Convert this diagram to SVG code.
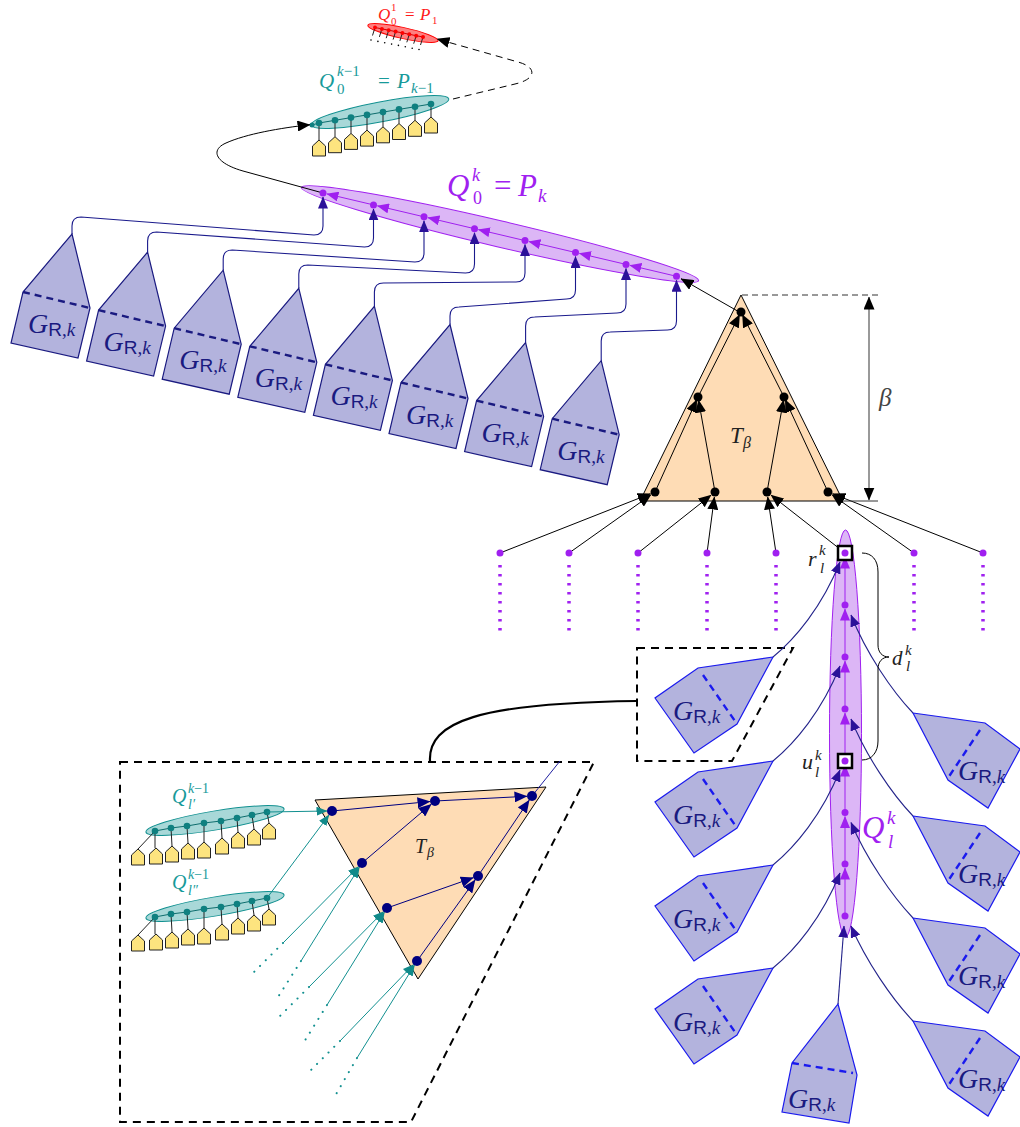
<svg xmlns="http://www.w3.org/2000/svg" width="1020" height="1127" viewBox="0 0 1020 1127">
<defs>
<style>
.mi{font-family:"Liberation Serif","DejaVu Serif",serif;font-style:italic}
.up{font-style:normal}
.sf{font-family:"Liberation Sans","DejaVu Sans",sans-serif;font-style:normal}
.gl{font-size:28px;fill:#1a1a80}
.boxT{fill:#b3b3dd;stroke:#1a1a80;stroke-width:1.2}
.dashT{stroke:#1a1a80;stroke-width:2.4;stroke-dasharray:7 5;fill:none}
.boxB{fill:#b3b3dd;stroke:#1a1aee;stroke-width:1.2}
.dashB{stroke:#1a1aee;stroke-width:2.4;stroke-dasharray:7 5;fill:none}
.house{fill:#fde47f;stroke:#222;stroke-width:1}
.stem{stroke:#222;stroke-width:1;fill:none}
.tealE{fill:#a8d8d8;stroke:#119090;stroke-width:1}
.tline{fill:none;stroke:#0d6d6d;stroke-width:1}
.tdot{fill:#0f8080}
.pdot{fill:#a020f0}
.kdot{fill:#000}
.ndot{fill:#000080}
.cb{fill:none;stroke:#1a1a8c;stroke-width:1.1;marker-end:url(#aB)}
.cb2{fill:none;stroke:#23238a;stroke-width:1.1;marker-end:url(#aB)}
.cp{fill:none;stroke:#a020f0;stroke-width:1;marker-end:url(#aP)}
.ck{fill:none;stroke:#000;stroke-width:1;marker-end:url(#aK)}
.ckd{fill:none;stroke:#000;stroke-width:1;stroke-dasharray:7 5;marker-end:url(#aK)}
.ct{fill:none;stroke:#129090;stroke-width:1;marker-end:url(#aT)}
.cn{fill:none;stroke:#000080;stroke-width:1;marker-end:url(#aN)}
.dotline{fill:none;stroke:#129090;stroke-width:2;stroke-linecap:round;stroke-dasharray:0.1 8}
.pdots{stroke:#a020f0;stroke-width:3.5;stroke-dasharray:2.5 6.5;fill:none}
.frame{fill:none;stroke:#000;stroke-width:2;stroke-dasharray:8 6}
</style>
<marker id="aB" viewBox="0 0 12 10" refX="11.5" refY="5" markerWidth="12" markerHeight="10" markerUnits="userSpaceOnUse" orient="auto"><path d="M0,0 L12,5 L0,10 z" fill="#2b1199"/></marker>
<marker id="aP" viewBox="0 0 12 10" refX="11.5" refY="5" markerWidth="12" markerHeight="10" markerUnits="userSpaceOnUse" orient="auto"><path d="M0,0 L12,5 L0,10 z" fill="#a020f0"/></marker>
<marker id="aK" viewBox="0 0 13 11" refX="12.5" refY="5.5" markerWidth="13" markerHeight="11" markerUnits="userSpaceOnUse" orient="auto"><path d="M0,0 L13,5.5 L0,11 z" fill="#000"/></marker>
<marker id="aKb" viewBox="0 0 13 11" refX="12.5" refY="5.5" markerWidth="13" markerHeight="11" markerUnits="userSpaceOnUse" orient="auto-start-reverse"><path d="M0,0 L13,5.5 L0,11 z" fill="#000"/></marker>
<marker id="aT" viewBox="0 0 11 9" refX="10.5" refY="4.5" markerWidth="11" markerHeight="9" markerUnits="userSpaceOnUse" orient="auto"><path d="M0,0 L11,4.5 L0,9 z" fill="#118a8a"/></marker>
<marker id="aN" viewBox="0 0 13 11" refX="12.5" refY="5.5" markerWidth="13" markerHeight="11" markerUnits="userSpaceOnUse" orient="auto"><path d="M0,0 L13,5.5 L0,11 z" fill="#000080"/></marker>
</defs>
<rect width="1020" height="1127" fill="#fff"/>

<g id="frames">
<polygon class="frame" points="120,762 594,762 411,1122 120,1122"/>
<polygon class="frame" points="637,648 793,648 732,761 637,761"/>
<path d="M430,761 C428,722 478,703 637,701" fill="none" stroke="#000" stroke-width="2.2"/>
</g>

<g id="P1">
<ellipse cx="403" cy="33" rx="36" ry="5.5" transform="rotate(12.4 403 33)" fill="#ff8080" stroke="#ff0000" stroke-width="1"/>
<polyline points="375,27.5 381.9,28.9 388.7,30.2 395.6,31.6 402.4,32.9 409.3,34.3 416.2,35.7 423,37" fill="none" stroke="#c00" stroke-width="1"/>
<path class="stem" d="M375,27.5 l-2.5,8 M381.9,28.9 l-2.5,8 M388.7,30.2 l-2.5,8 M395.6,31.6 l-2.5,8 M402.4,32.9 l-2.5,8 M409.3,34.3 l-2.5,8 M416.2,35.7 l-2.5,8 M423,37 l-2.5,8"/>
<g fill="#000"><circle cx="371" cy="40" r="0.8"/><circle cx="377.9" cy="41.4" r="0.8"/><circle cx="384.7" cy="42.7" r="0.8"/><circle cx="391.6" cy="44.1" r="0.8"/><circle cx="398.4" cy="45.4" r="0.8"/><circle cx="405.3" cy="46.8" r="0.8"/><circle cx="412.2" cy="48.2" r="0.8"/><circle cx="419" cy="49.5" r="0.8"/></g>
<g fill="#ff0000"><circle cx="375" cy="27.5" r="2"/><circle cx="381.9" cy="28.9" r="2"/><circle cx="388.7" cy="30.2" r="2"/><circle cx="395.6" cy="31.6" r="2"/><circle cx="402.4" cy="32.9" r="2"/><circle cx="409.3" cy="34.3" r="2"/><circle cx="416.2" cy="35.7" r="2"/><circle cx="423" cy="37" r="2"/></g>
<text class="mi" fill="#ff1a1a" font-size="17"><tspan x="378" y="20">Q</tspan><tspan x="391" y="11" font-size="11" class="up">1</tspan><tspan x="391" y="25" font-size="11" class="up">0</tspan><tspan x="405" y="20" class="up">=</tspan><tspan x="420" y="20">P</tspan><tspan x="432" y="24" font-size="11" class="up">1</tspan></text>
</g>

<g id="Pk1">
<ellipse class="tealE" cx="380" cy="112" rx="70" ry="10" transform="rotate(-10.8 380 112)"/>
<polyline class="tline" points="312,125 319,123 335,120.3 351,117.6 367,114.9 383,112.1 399,109.4 415,106.7 431,104"/>
<path class="stem" d="M319,123 V140 M335,120.3 V136.7 M351,117.6 V133.4 M367,114.9 V130.1 M383,112.1 V126.8 M399,109.4 V123.5 M415,106.7 V120.3 M431,104 V117"/>
<polygon class="house" points="319,140 325.5,146 325.5,156 312.5,156 312.5,146"/>
<polygon class="house" points="335,136.7 341.5,142.7 341.5,152.7 328.5,152.7 328.5,142.7"/>
<polygon class="house" points="351,133.4 357.5,139.4 357.5,149.4 344.5,149.4 344.5,139.4"/>
<polygon class="house" points="367,130.1 373.5,136.1 373.5,146.1 360.5,146.1 360.5,136.1"/>
<polygon class="house" points="383,126.8 389.5,132.8 389.5,142.8 376.5,142.8 376.5,132.8"/>
<polygon class="house" points="399,123.5 405.5,129.5 405.5,139.5 392.5,139.5 392.5,129.5"/>
<polygon class="house" points="415,120.3 421.5,126.3 421.5,136.3 408.5,136.3 408.5,126.3"/>
<polygon class="house" points="431,117 437.5,123 437.5,133 424.5,133 424.5,123"/>
<g class="tdot"><circle cx="312" cy="125" r="2.5"/><circle cx="319" cy="123" r="3.3"/><circle cx="335" cy="120.3" r="3.3"/><circle cx="351" cy="117.6" r="3.3"/><circle cx="367" cy="114.9" r="3.3"/><circle cx="383" cy="112.1" r="3.3"/><circle cx="399" cy="109.4" r="3.3"/><circle cx="415" cy="106.7" r="3.3"/><circle cx="431" cy="104" r="3.3"/></g>
<text class="mi" fill="#179a9a" font-size="21"><tspan x="319" y="88">Q</tspan><tspan x="337" y="76" font-size="15">k<tspan class="up">−1</tspan></tspan><tspan x="337" y="94" font-size="15" class="up">0</tspan><tspan x="378" y="88" class="up">=</tspan><tspan x="397" y="88">P</tspan><tspan x="411" y="93" font-size="15">k<tspan class="up">−1</tspan></tspan></text>
</g>

<g id="Pk">
<ellipse cx="500" cy="234" rx="204" ry="13" transform="rotate(13.2 500 234)" fill="#dcb6f6" stroke="#a020f0" stroke-width="1"/>
<text class="mi" fill="#a020f0" font-size="31"><tspan x="447" y="196">Q</tspan><tspan x="472" y="181" font-size="18">k</tspan><tspan x="473" y="204" font-size="18" class="up">0</tspan><tspan x="494" y="196" class="up">=</tspan><tspan x="518" y="196">P</tspan><tspan x="538" y="202" font-size="19">k</tspan></text>
</g>

<g id="Tbeta">
<polygon points="741,295 640,501 843,501" fill="#fedcb5" stroke="#000" stroke-width="1"/>
<text class="mi" font-size="23" fill="#222"><tspan x="730" y="443">T</tspan><tspan x="743" y="448" font-size="16">β</tspan></text>
</g>

<g id="Qlk">
<ellipse cx="845.5" cy="733.5" rx="16" ry="203.5" fill="#dcb6f6" stroke="#a020f0" stroke-width="1"/>
<text class="mi" fill="#a020f0" font-size="31"><tspan x="862" y="838">Q</tspan><tspan x="887" y="824" font-size="19">k</tspan><tspan x="888" y="848" font-size="19">l</tspan></text>
</g>

<g id="gt1" transform="translate(72,234)"><polygon class="boxT" points="0,0 18,74 6,124 -61,109 -49,58"/><line class="dashT" x1="-49" y1="58" x2="18" y2="74"/><text class="mi gl" x="-44" y="99">G<tspan class="sf" font-size="19" dy="3">R</tspan><tspan class="up" font-size="19">,</tspan><tspan font-size="19">k</tspan></text></g>
<g id="gt2" transform="translate(147.6,252.1)"><polygon class="boxT" points="0,0 18,74 6,124 -61,109 -49,58"/><line class="dashT" x1="-49" y1="58" x2="18" y2="74"/><text class="mi gl" x="-44" y="99">G<tspan class="sf" font-size="19" dy="3">R</tspan><tspan class="up" font-size="19">,</tspan><tspan font-size="19">k</tspan></text></g>
<g id="gt3" transform="translate(223.2,270.2)"><polygon class="boxT" points="0,0 18,74 6,124 -61,109 -49,58"/><line class="dashT" x1="-49" y1="58" x2="18" y2="74"/><text class="mi gl" x="-44" y="99">G<tspan class="sf" font-size="19" dy="3">R</tspan><tspan class="up" font-size="19">,</tspan><tspan font-size="19">k</tspan></text></g>
<g id="gt4" transform="translate(298.8,288.3)"><polygon class="boxT" points="0,0 18,74 6,124 -61,109 -49,58"/><line class="dashT" x1="-49" y1="58" x2="18" y2="74"/><text class="mi gl" x="-44" y="99">G<tspan class="sf" font-size="19" dy="3">R</tspan><tspan class="up" font-size="19">,</tspan><tspan font-size="19">k</tspan></text></g>
<g id="gt5" transform="translate(374.4,306.4)"><polygon class="boxT" points="0,0 18,74 6,124 -61,109 -49,58"/><line class="dashT" x1="-49" y1="58" x2="18" y2="74"/><text class="mi gl" x="-44" y="99">G<tspan class="sf" font-size="19" dy="3">R</tspan><tspan class="up" font-size="19">,</tspan><tspan font-size="19">k</tspan></text></g>
<g id="gt6" transform="translate(450,324.5)"><polygon class="boxT" points="0,0 18,74 6,124 -61,109 -49,58"/><line class="dashT" x1="-49" y1="58" x2="18" y2="74"/><text class="mi gl" x="-44" y="99">G<tspan class="sf" font-size="19" dy="3">R</tspan><tspan class="up" font-size="19">,</tspan><tspan font-size="19">k</tspan></text></g>
<g id="gt7" transform="translate(525.6,342.6)"><polygon class="boxT" points="0,0 18,74 6,124 -61,109 -49,58"/><line class="dashT" x1="-49" y1="58" x2="18" y2="74"/><text class="mi gl" x="-44" y="99">G<tspan class="sf" font-size="19" dy="3">R</tspan><tspan class="up" font-size="19">,</tspan><tspan font-size="19">k</tspan></text></g>
<g id="gt8" transform="translate(601.2,360.7)"><polygon class="boxT" points="0,0 18,74 6,124 -61,109 -49,58"/><line class="dashT" x1="-49" y1="58" x2="18" y2="74"/><text class="mi gl" x="-44" y="99">G<tspan class="sf" font-size="19" dy="3">R</tspan><tspan class="up" font-size="19">,</tspan><tspan font-size="19">k</tspan></text></g>

<g id="gl1" transform="translate(773,657)"><polygon class="boxB" points="0,0 -75,11 -118,41 -79,96 -36,67"/><line class="dashB" x1="-70" y1="18" x2="-36" y2="67"/><text class="mi gl" x="-100" y="63">G<tspan class="sf" font-size="19" dy="3">R</tspan><tspan class="up" font-size="19">,</tspan><tspan font-size="19">k</tspan></text></g>
<g id="gl2" transform="translate(773,761)"><polygon class="boxB" points="0,0 -75,11 -118,41 -79,96 -36,67"/><line class="dashB" x1="-70" y1="18" x2="-36" y2="67"/><text class="mi gl" x="-100" y="63">G<tspan class="sf" font-size="19" dy="3">R</tspan><tspan class="up" font-size="19">,</tspan><tspan font-size="19">k</tspan></text></g>
<g id="gl3" transform="translate(773,865)"><polygon class="boxB" points="0,0 -75,11 -118,41 -79,96 -36,67"/><line class="dashB" x1="-70" y1="18" x2="-36" y2="67"/><text class="mi gl" x="-100" y="63">G<tspan class="sf" font-size="19" dy="3">R</tspan><tspan class="up" font-size="19">,</tspan><tspan font-size="19">k</tspan></text></g>
<g id="gl4" transform="translate(773,968)"><polygon class="boxB" points="0,0 -75,11 -118,41 -79,96 -36,67"/><line class="dashB" x1="-70" y1="18" x2="-36" y2="67"/><text class="mi gl" x="-100" y="63">G<tspan class="sf" font-size="19" dy="3">R</tspan><tspan class="up" font-size="19">,</tspan><tspan font-size="19">k</tspan></text></g>
<g id="gbot" transform="translate(838,1004)"><polygon class="boxB" points="0,0 19,71 11,119 -56,108 -46,59"/><line class="dashB" x1="-46" y1="59" x2="15" y2="69"/><text class="mi gl" x="-50" y="104">G<tspan class="sf" font-size="19" dy="3">R</tspan><tspan class="up" font-size="19">,</tspan><tspan font-size="19">k</tspan></text></g>
<g id="gr1" transform="translate(913,713)"><polygon class="boxB" points="0,0 72,10 107,36 75,95 35,67"/><line class="dashB" x1="67" y1="17" x2="35" y2="65"/><text class="mi gl" x="45" y="67">G<tspan class="sf" font-size="19" dy="3">R</tspan><tspan class="up" font-size="19">,</tspan><tspan font-size="19">k</tspan></text></g>
<g id="gr2" transform="translate(913,816)"><polygon class="boxB" points="0,0 72,10 107,36 75,95 35,67"/><line class="dashB" x1="67" y1="17" x2="35" y2="65"/><text class="mi gl" x="45" y="67">G<tspan class="sf" font-size="19" dy="3">R</tspan><tspan class="up" font-size="19">,</tspan><tspan font-size="19">k</tspan></text></g>
<g id="gr3" transform="translate(913,918)"><polygon class="boxB" points="0,0 72,10 107,36 75,95 35,67"/><line class="dashB" x1="67" y1="17" x2="35" y2="65"/><text class="mi gl" x="45" y="67">G<tspan class="sf" font-size="19" dy="3">R</tspan><tspan class="up" font-size="19">,</tspan><tspan font-size="19">k</tspan></text></g>
<g id="gr4" transform="translate(913,1021)"><polygon class="boxB" points="0,0 72,10 107,36 75,95 35,67"/><line class="dashB" x1="67" y1="17" x2="35" y2="65"/><text class="mi gl" x="45" y="67">G<tspan class="sf" font-size="19" dy="3">R</tspan><tspan class="up" font-size="19">,</tspan><tspan font-size="19">k</tspan></text></g>

<g id="inset-T">
<polygon points="315,800 546,787 418,979" fill="#fedcb5" stroke="#000" stroke-width="1"/>
<text class="mi" font-size="20" fill="#222"><tspan x="415" y="853">T</tspan><tspan x="427" y="857" font-size="14">β</tspan></text>
</g>

<g id="inset-Q1">
<ellipse class="tealE" cx="215" cy="820.5" rx="70" ry="9.5" transform="rotate(-9.5 215 820.5)"/>
<polyline class="tline" points="155,831 171,828 187,826 204,823 221,821 237,818 252,815 267,812"/>
<path class="stem" d="M155,831 L138,849 M155,831 V848 M171,828 L172,846 M187,826 L188,843 M204,823 V842 M221,821 L222,838 M237,818 L238,832 M252,815 L254,829 M267,812 L269,823"/>
<polygon class="house" points="138,849 144.5,855 144.5,865 131.5,865 131.5,855"/>
<polygon class="house" points="156,848 162.5,854 162.5,864 149.5,864 149.5,854"/>
<polygon class="house" points="172,846 178.5,852 178.5,862 165.5,862 165.5,852"/>
<polygon class="house" points="188,843 194.5,849 194.5,859 181.5,859 181.5,849"/>
<polygon class="house" points="204,842 210.5,848 210.5,858 197.5,858 197.5,848"/>
<polygon class="house" points="222,838 228.5,844 228.5,854 215.5,854 215.5,844"/>
<polygon class="house" points="238,832 244.5,838 244.5,848 231.5,848 231.5,838"/>
<polygon class="house" points="254,829 260.5,835 260.5,845 247.5,845 247.5,835"/>
<polygon class="house" points="269,823 275.5,829 275.5,839 262.5,839 262.5,829"/>
<g class="tdot"><circle cx="155" cy="831" r="3.3"/><circle cx="171" cy="828" r="3.3"/><circle cx="187" cy="826" r="3.3"/><circle cx="204" cy="823" r="3.3"/><circle cx="221" cy="821" r="3.3"/><circle cx="237" cy="818" r="3.3"/><circle cx="252" cy="815" r="3.3"/><circle cx="267" cy="812" r="3.3"/></g>
<text class="mi" fill="#179a9a" font-size="20"><tspan x="172" y="803">Q</tspan><tspan x="188" y="793" font-size="14">k<tspan class="up">−1</tspan></tspan><tspan x="188" y="809" font-size="14">l′</tspan></text>
</g>

<g id="inset-Q2">
<g transform="translate(0,86)">
<ellipse class="tealE" cx="215" cy="820.5" rx="70" ry="9.5" transform="rotate(-9.5 215 820.5)"/>
<polyline class="tline" points="155,831 171,828 187,826 204,823 221,821 237,818 252,815 267,812"/>
<path class="stem" d="M155,831 L138,849 M155,831 V848 M171,828 L172,846 M187,826 L188,843 M204,823 V842 M221,821 L222,838 M237,818 L238,832 M252,815 L254,829 M267,812 L269,823"/>
<polygon class="house" points="138,849 144.5,855 144.5,865 131.5,865 131.5,855"/>
<polygon class="house" points="156,848 162.5,854 162.5,864 149.5,864 149.5,854"/>
<polygon class="house" points="172,846 178.5,852 178.5,862 165.5,862 165.5,852"/>
<polygon class="house" points="188,843 194.5,849 194.5,859 181.5,859 181.5,849"/>
<polygon class="house" points="204,842 210.5,848 210.5,858 197.5,858 197.5,848"/>
<polygon class="house" points="222,838 228.5,844 228.5,854 215.5,854 215.5,844"/>
<polygon class="house" points="238,832 244.5,838 244.5,848 231.5,848 231.5,838"/>
<polygon class="house" points="254,829 260.5,835 260.5,845 247.5,845 247.5,835"/>
<polygon class="house" points="269,823 275.5,829 275.5,839 262.5,839 262.5,829"/>
<g class="tdot"><circle cx="155" cy="831" r="3.3"/><circle cx="171" cy="828" r="3.3"/><circle cx="187" cy="826" r="3.3"/><circle cx="204" cy="823" r="3.3"/><circle cx="221" cy="821" r="3.3"/><circle cx="237" cy="818" r="3.3"/><circle cx="252" cy="815" r="3.3"/><circle cx="267" cy="812" r="3.3"/></g>
</g>
<text class="mi" fill="#179a9a" font-size="20"><tspan x="172" y="889">Q</tspan><tspan x="188" y="879" font-size="14">k<tspan class="up">−1</tspan></tspan><tspan x="188" y="895" font-size="14">l″</tspan></text>
</g>

<g id="connectors">
<path class="ck" d="M323,193 L243,171 C215,163 210,150 226,143 C246,134 280,128 310,124.7"/>
<path class="ckd" d="M453,99 L515,84 C537,79 537,67 518,62 L437,39"/>
<path class="ck" d="M741,313 L681,278.7"/>
<path class="cb" d="M72,234 V226 Q72,217 81,217 L314,235 Q323,235 323,226 V197"/>
<path class="cb" d="M147.6,252.1 V241 Q147.6,232 156.6,232 L364.5,247 Q373.5,247 373.5,238 V208.9"/>
<path class="cb" d="M223.2,270.2 V259 Q223.2,250 232.2,250 L415,262 Q424,262 424,253 V220.8"/>
<path class="cb" d="M298.8,288.3 V274 Q298.8,265 307.8,265 L465.5,273 Q474.5,273 474.5,264 V232.7"/>
<path class="cb" d="M374.4,306.4 V292 Q374.4,283 383.4,283 L516,282 Q525,282 525,273 V244.6"/>
<path class="cb" d="M450,324.5 V316 Q450,307 459,307 L566.5,299 Q575.5,299 575.5,290 V256.5"/>
<path class="cb" d="M525.6,342.6 V326 Q525.6,317 534.6,317 L617,313 Q626,313 626,304 V268.4"/>
<path class="cb" d="M601.2,360.7 V341 Q601.2,332 610.2,332 L667.5,330 Q676.5,330 676.5,321 V280.3"/>
<path class="cp" d="M373.5,204.9 L326.9,193.9"/>
<path class="cp" d="M424,216.8 L377.4,205.8"/>
<path class="cp" d="M474.5,228.7 L427.9,217.7"/>
<path class="cp" d="M525,240.6 L478.4,229.6"/>
<path class="cp" d="M575.5,252.5 L528.9,241.5"/>
<path class="cp" d="M626,264.4 L579.4,253.4"/>
<path class="cp" d="M676.5,276.3 L629.9,265.3"/>
<path class="ck" d="M655,492 L696.8,399.7"/>
<path class="ck" d="M715,492 L698.5,400"/>
<path class="ck" d="M767,492 L783.5,400"/>
<path class="ck" d="M828,492 L785.2,399.7"/>
<path class="ck" d="M698,397 L739.6,314.7"/>
<path class="ck" d="M784,397 L742.4,314.7"/>
<path class="ck" d="M500,553 L650.3,493.8"/>
<path class="ck" d="M569,553 L650.9,494.9"/>
<path class="ck" d="M638,553 L711.1,495.1"/>
<path class="ck" d="M707,553 L714.4,497"/>
<path class="ck" d="M776,553 L767.7,497"/>
<path class="ck" d="M845,553 L771,495.1"/>
<path class="ck" d="M914,553 L832.1,494.9"/>
<path class="ck" d="M983,553 L832.7,493.8"/>
<path class="pdots" d="M500,565 V636 M569,565 V636 M638,565 V636 M707,565 V636 M776,565 V636 M914,565 V636 M983,565 V636"/>
<path class="cp" d="M845,605 V557"/>
<path class="cp" d="M845,657 V609"/>
<path class="cp" d="M845,709 V661"/>
<path class="cp" d="M845,761 V713"/>
<path class="cp" d="M845,812.5 V765"/>
<path class="cp" d="M845,864 V816.5"/>
<path class="cp" d="M845,916 V868"/>
<path class="cb2" d="M773,657 C795,639 822,607 840,562"/>
<path class="cb2" d="M773,761 C795,743 822,711 840,666"/>
<path class="cb2" d="M773,865 C795,847 822,815 840,770"/>
<path class="cb2" d="M773,968 C795,950 822,918 840,873"/>
<path class="cb2" d="M838,1004 C840,980 842,955 844,926"/>
<path class="cb2" d="M913,713 C892,691 866,653 851,615"/>
<path class="cb2" d="M913,816 C892,794 866,756 851,719"/>
<path class="cb2" d="M913,918 C892,896 866,858 851,822.5"/>
<path class="cb2" d="M913,1021 C892,999 866,961 851,926"/>
<path class="cn" d="M332,811 L430,801.5"/>
<path class="cn" d="M435,801 L527,796.3"/>
<path class="cn" d="M362,863 L431.2,804.2"/>
<path class="cn" d="M387,908 L473.3,877.7"/>
<path class="cn" d="M478,876 L529.2,800.1"/>
<path class="cn" d="M417,961 L475.1,880"/>
<line x1="532" y1="796" x2="560" y2="761" stroke="#2020a0" stroke-width="1"/>
<path class="ct" d="M267,812 L327,811"/>
<path class="ct" d="M267,898 L329,815"/>
<path class="ct" d="M283,943 L358.5,866.6"/>
<path class="ct" d="M301,961 L359.4,867.2"/>
<path class="ct" d="M309,987 L383.5,911.6"/>
<path class="ct" d="M327,1005 L384.4,912.3"/>
<path class="ct" d="M340,1041 L413.5,964.6"/>
<path class="ct" d="M357,1058 L414.4,965.3"/>
<path class="dotline" d="M283,943 L253,973 M301,961 L278,997 M309,987 L278,1018 M327,1005 L304,1042 M340,1041 L309,1072 M357,1058 L335,1096"/>
</g>

<g id="measure">
<line x1="742" y1="295" x2="878" y2="295" stroke="#333" stroke-width="1" stroke-dasharray="6 4"/>
<line x1="843" y1="501" x2="878" y2="501" stroke="#333" stroke-width="1"/>
<path d="M869,297 V500" stroke="#555" stroke-width="1.2" fill="none" marker-start="url(#aKb)" marker-end="url(#aKb)"/>
<text class="mi" x="879" y="406" font-size="25" fill="#444">β</text>
<path d="M862,553 C872,553 878,560 878,572 L878,645 C878,652 882,657 889,657 C882,657 878,662 878,669 L878,741 C878,752 872,760 862,760" fill="none" stroke="#000" stroke-width="1"/>
</g>

<g id="dots">
<g class="pdot"><circle cx="323" cy="193" r="3.5"/><circle cx="373.5" cy="204.9" r="3.5"/><circle cx="424" cy="216.8" r="3.5"/><circle cx="474.5" cy="228.7" r="3.5"/><circle cx="525" cy="240.6" r="3.5"/><circle cx="575.5" cy="252.5" r="3.5"/><circle cx="626" cy="264.4" r="3.5"/><circle cx="676.5" cy="276.3" r="3.5"/></g>
<g class="kdot"><circle cx="741" cy="312" r="4.5"/><circle cx="698" cy="397" r="4.5"/><circle cx="784" cy="397" r="4.5"/><circle cx="655" cy="492" r="4.5"/><circle cx="715" cy="492" r="4.5"/><circle cx="767" cy="492" r="4.5"/><circle cx="828" cy="492" r="4.5"/></g>
<g class="pdot"><circle cx="500" cy="553" r="3.5"/><circle cx="569" cy="553" r="3.5"/><circle cx="638" cy="553" r="3.5"/><circle cx="707" cy="553" r="3.5"/><circle cx="776" cy="553" r="3.5"/><circle cx="914" cy="553" r="3.5"/><circle cx="983" cy="553" r="3.5"/></g>
<rect x="838" y="546" width="14" height="14" fill="#fff" stroke="#000" stroke-width="2.5"/>
<rect x="838" y="754" width="14" height="14" fill="#fff" stroke="#000" stroke-width="2.5"/>
<g class="pdot"><circle cx="845" cy="553" r="3.5"/><circle cx="845" cy="605" r="3.5"/><circle cx="845" cy="657" r="3.5"/><circle cx="845" cy="709" r="3.5"/><circle cx="845" cy="761" r="3.5"/><circle cx="845" cy="812.5" r="3.5"/><circle cx="845" cy="864" r="3.5"/><circle cx="845" cy="916" r="3.5"/></g>
<g class="ndot"><circle cx="332" cy="811" r="5"/><circle cx="435" cy="801" r="5"/><circle cx="532" cy="796" r="5"/><circle cx="362" cy="863" r="5"/><circle cx="387" cy="908" r="5"/><circle cx="478" cy="876" r="5"/><circle cx="417" cy="961" r="5"/></g>
</g>

<g id="labels">
<text class="mi" font-size="22" fill="#222"><tspan x="808" y="566">r</tspan><tspan x="819" y="555" font-size="15">k</tspan><tspan x="820" y="573" font-size="15">l</tspan></text>
<text class="mi" font-size="22" fill="#222"><tspan x="802" y="769">u</tspan><tspan x="815" y="760" font-size="15">k</tspan><tspan x="815" y="777" font-size="15">l</tspan></text>
<text class="mi" font-size="21" fill="#222"><tspan x="892" y="665">d</tspan><tspan x="905" y="655" font-size="15">k</tspan><tspan x="906" y="671" font-size="15">l</tspan></text>
</g>
</svg>
